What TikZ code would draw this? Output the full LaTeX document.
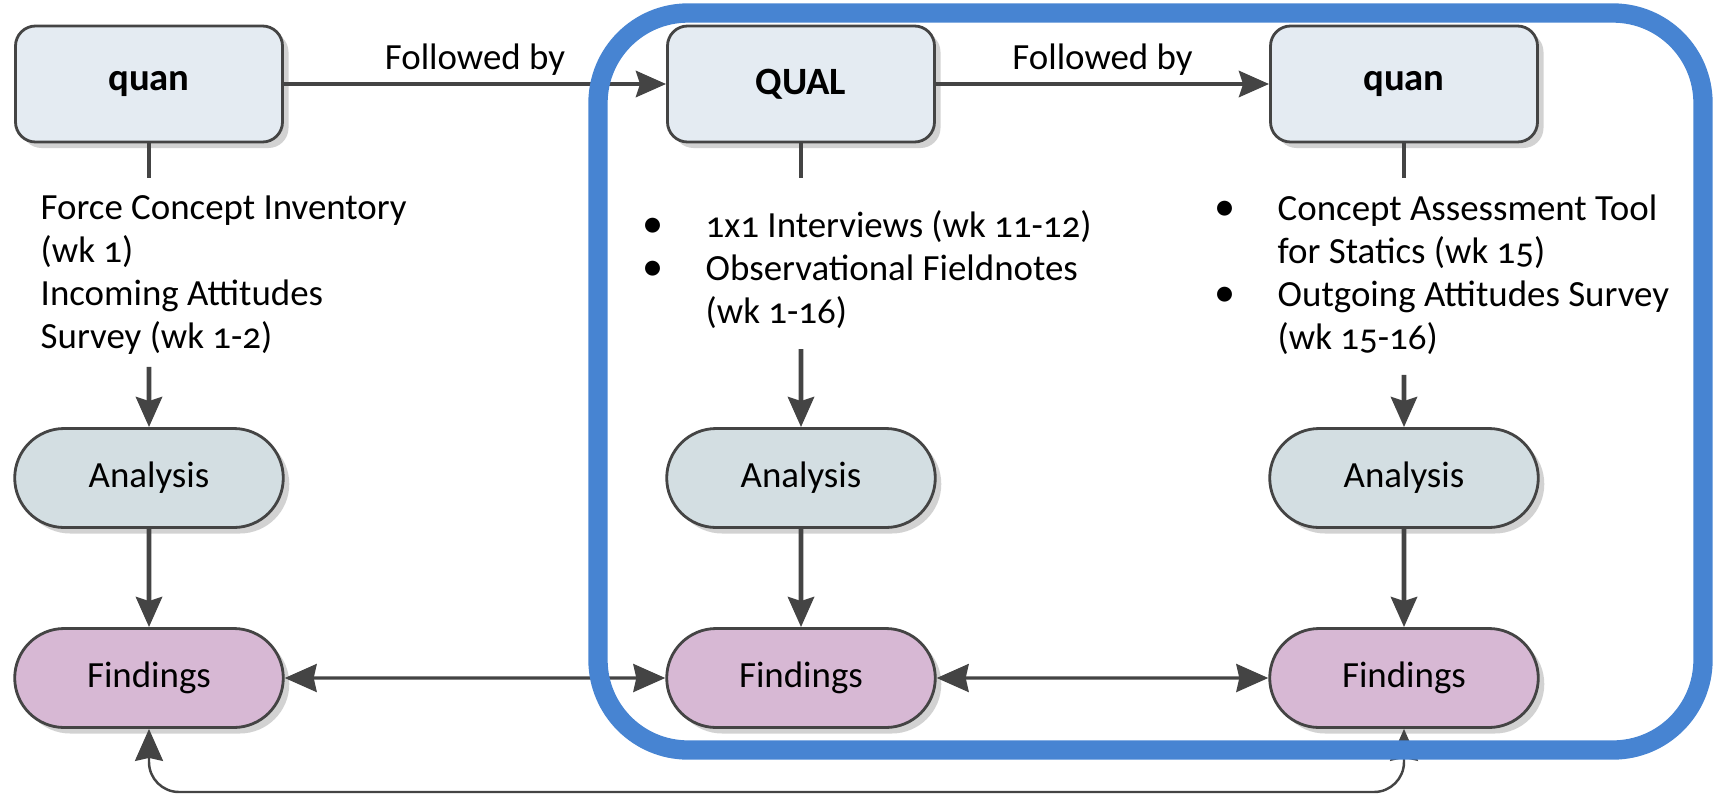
\documentclass[tikz,border=0pt]{standalone}
\usepackage{fontspec}
\setmainfont{Carlito}[Numbers=OldStyle]
\usepackage{tikz}
\usetikzlibrary{shapes.geometric, shapes.misc, arrows.meta, shadows}
\definecolor{phasefill}{HTML}{E4EBF2}
\definecolor{anafill}{HTML}{D3DEE2}
\definecolor{findfill}{HTML}{D7B8D4}
\definecolor{linegray}{HTML}{444444}
\definecolor{groupblue}{HTML}{4784D2}
\tikzstyle{phase} = [rectangle, rounded corners=2mm, minimum width=2.67cm, minimum height=1.16cm, text centered, draw=linegray, line width=0.8pt, fill=phasefill, drop shadow={shadow xshift=0.6mm, shadow yshift=-0.6mm, fill=black!35}, font=\bfseries\fontsize{11}{13}\selectfont]
\tikzstyle{analysis} = [rounded rectangle, minimum width=2.92cm, minimum height=0.99cm, text centered, draw=linegray, line width=0.8pt, fill=anafill, drop shadow={shadow xshift=0.6mm, shadow yshift=-0.6mm, fill=black!35}, font=\fontsize{10.5}{12.2}\selectfont]
\tikzstyle{findings} = [analysis, fill=findfill]
\tikzstyle{methods} = [align=left, anchor=north west, inner xsep=0pt, inner ysep=1.2mm, font=\fontsize{10.5}{12.2}\selectfont]
\tikzstyle{link} = [line width=1.4pt, draw=linegray]
\tikzstyle{arrow} = [link, -{Stealth[length=3mm, width=2.6mm, inset=0.4mm]}]
\tikzstyle{both} = [line width=0.9pt, draw=linegray, {Stealth[length=3.2mm, width=2.8mm, inset=0.3mm]}-{Stealth[length=3.2mm, width=2.8mm, inset=0.3mm]}]
\tikzstyle{group} = [line width=5.5pt, draw=groupblue, rounded corners=9mm]
\newcommand{\bul}{{\large\textbullet}}

\begin{document}
\begin{tikzpicture}[node distance=2cm]
      \useasboundingbox (0,0) rectangle (17.14,-7.96);
      % top row
      \node (quan1) [phase] at (1.49,-0.84) {quan};
      \node (qual) [phase, right of=quan1, xshift=4.52cm] {QUAL};
      \node (quan3) [phase, right of=qual, xshift=4.03cm] {quan};
      \draw [arrow] (quan1) -- node[above, inner sep=0.6mm, font=\fontsize{10.5}{12.2}\selectfont] {Followed by} (qual);
      \draw [arrow] (qual) -- node[above, inner sep=0.6mm, font=\fontsize{10.5}{12.2}\selectfont] {Followed by} (quan3);
      % data collection
      \coordinate (listtop) at (0,-1.78);
      \node (txt1) [methods] at (0.40,-1.83) {Force Concept Inventory\\(wk 1)\\Incoming Attitudes\\Survey (wk 1-2)};
      \node (txt2) [methods] at (6.42,-1.95) {\begin{tabular}{@{}l@{\hspace{4.2mm}}l@{}}\bul & 1x1 Interviews (wk 11-12)\\ \bul & Observational Fieldnotes\\ & (wk 1-16)\end{tabular}};
      \node (txt3) [methods] at (12.14,-1.78) {\begin{tabular}{@{}l@{\hspace{4.2mm}}l@{}}\bul & Concept Assessment Tool\\ & for Statics (wk 15)\\ \bul & Outgoing Attitudes Survey\\ & (wk 15-16)\end{tabular}};
      % analysis and findings
      \node (ana1) [analysis, below of=quan1, yshift=-1.94cm] {Analysis};
      \node (ana2) [analysis, below of=qual, yshift=-1.94cm] {Analysis};
      \node (ana3) [analysis, below of=quan3, yshift=-1.94cm] {Analysis};
      \node (fin1) [findings, below of=ana1] {Findings};
      \node (fin2) [findings, below of=ana2] {Findings};
      \node (fin3) [findings, below of=ana3] {Findings};
      \draw [link] (quan1) -- (quan1 |- listtop);
      \draw [link] (qual) -- (qual |- listtop);
      \draw [link] (quan3) -- (quan3 |- listtop);
      \draw [arrow] (ana1 |- txt1.south) -- (ana1);
      \draw [arrow] (ana2 |- txt2.south) -- (ana2);
      \draw [arrow] (ana3 |- txt3.south) -- (ana3);
      \draw [arrow] (ana1) -- (fin1);
      \draw [arrow] (ana2) -- (fin2);
      \draw [arrow] (ana3) -- (fin3);
      \draw [both] (fin1) -- (fin2);
      \draw [both] (fin2) -- (fin3);
      \coordinate (loop) at (0,-7.92);
      \draw [both, line width=0.7pt, rounded corners=3mm] (fin1.south) -- (fin1.south |- loop) -- (fin3.south |- loop) -- (fin3.south);
      % qualitative-priority frame
      \draw [group] (5.98,-0.13) rectangle (17.03,-7.50);
    \end{tikzpicture}
\end{document}
